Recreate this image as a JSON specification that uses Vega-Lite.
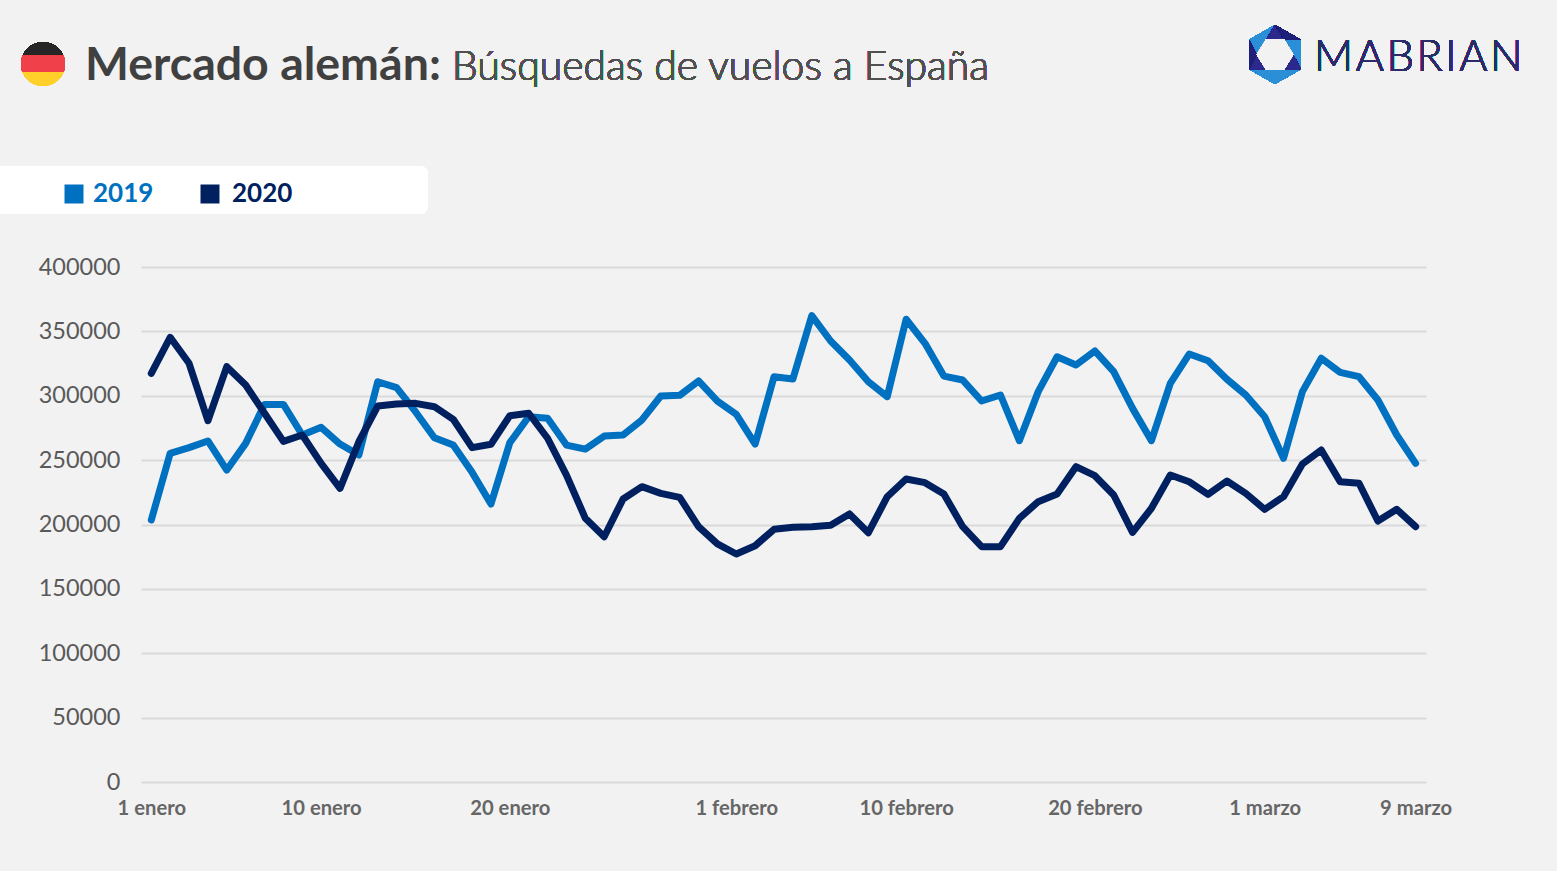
{"$schema":"https://vega.github.io/schema/vega-lite/v6.json","width":1285,"height":515,"autosize":{"type":"none"},"padding":{"left":141,"top":267,"right":131,"bottom":89},"background":"#f2f2f2","title":{"text":"Mercado alemán:","anchor":"start","frame":"group","dx":-56,"offset":-65,"font":"Lato","fontSize":46.5,"fontWeight":"bold","color":"#404040"},"config":{"view":{"stroke":null}},"data":{"values":[
{"day":1,"year":"2019","value":203500},{"day":2,"year":"2019","value":255300},{"day":3,"year":"2019","value":259700},{"day":4,"year":"2019","value":264900},{"day":5,"year":"2019","value":242300},{"day":6,"year":"2019","value":263000},{"day":7,"year":"2019","value":293300},{"day":8,"year":"2019","value":293300},{"day":9,"year":"2019","value":269500},{"day":10,"year":"2019","value":275500},{"day":11,"year":"2019","value":262500},{"day":12,"year":"2019","value":254000},{"day":13,"year":"2019","value":310900},{"day":14,"year":"2019","value":306300},{"day":15,"year":"2019","value":287600},{"day":16,"year":"2019","value":267400},{"day":17,"year":"2019","value":261700},{"day":18,"year":"2019","value":240500},{"day":19,"year":"2019","value":215900},{"day":20,"year":"2019","value":263600},{"day":21,"year":"2019","value":283700},{"day":22,"year":"2019","value":282500},{"day":23,"year":"2019","value":261700},{"day":24,"year":"2019","value":258600},{"day":25,"year":"2019","value":268700},{"day":26,"year":"2019","value":269500},{"day":27,"year":"2019","value":281200},{"day":28,"year":"2019","value":299800},{"day":29,"year":"2019","value":300300},{"day":30,"year":"2019","value":311500},{"day":31,"year":"2019","value":295900},{"day":32,"year":"2019","value":285600},{"day":33,"year":"2019","value":262500},{"day":34,"year":"2019","value":314800},{"day":35,"year":"2019","value":313000},{"day":36,"year":"2019","value":362200},{"day":37,"year":"2019","value":342500},{"day":38,"year":"2019","value":327800},{"day":39,"year":"2019","value":310900},{"day":40,"year":"2019","value":299300},{"day":41,"year":"2019","value":359400},{"day":42,"year":"2019","value":340700},{"day":43,"year":"2019","value":315300},{"day":44,"year":"2019","value":312200},{"day":45,"year":"2019","value":295900},{"day":46,"year":"2019","value":300600},{"day":47,"year":"2019","value":265100},{"day":48,"year":"2019","value":303200},{"day":49,"year":"2019","value":330300},{"day":50,"year":"2019","value":323900},{"day":51,"year":"2019","value":334800},{"day":52,"year":"2019","value":318700},{"day":53,"year":"2019","value":290200},{"day":54,"year":"2019","value":265100},{"day":55,"year":"2019","value":309600},{"day":56,"year":"2019","value":332400},{"day":57,"year":"2019","value":327200},{"day":58,"year":"2019","value":312800},{"day":59,"year":"2019","value":300600},{"day":60,"year":"2019","value":283700},{"day":61,"year":"2019","value":251400},{"day":62,"year":"2019","value":303200},{"day":63,"year":"2019","value":329100},{"day":64,"year":"2019","value":318200},{"day":65,"year":"2019","value":314800},{"day":66,"year":"2019","value":296700},{"day":67,"year":"2019","value":269500},{"day":68,"year":"2019","value":247500},
{"day":1,"year":"2020","value":317400},{"day":2,"year":"2020","value":345400},{"day":3,"year":"2020","value":325200},{"day":4,"year":"2020","value":280600},{"day":5,"year":"2020","value":322600},{"day":6,"year":"2020","value":308300},{"day":7,"year":"2020","value":286400},{"day":8,"year":"2020","value":264600},{"day":9,"year":"2020","value":269500},{"day":10,"year":"2020","value":247500},{"day":11,"year":"2020","value":228100},{"day":12,"year":"2020","value":264300},{"day":13,"year":"2020","value":292000},{"day":14,"year":"2020","value":293600},{"day":15,"year":"2020","value":294100},{"day":16,"year":"2020","value":291500},{"day":17,"year":"2020","value":281700},{"day":18,"year":"2020","value":259700},{"day":19,"year":"2020","value":262300},{"day":20,"year":"2020","value":284500},{"day":21,"year":"2020","value":286400},{"day":22,"year":"2020","value":267000},{"day":23,"year":"2020","value":238400},{"day":24,"year":"2020","value":204800},{"day":25,"year":"2020","value":190500},{"day":26,"year":"2020","value":219800},{"day":27,"year":"2020","value":229400},{"day":28,"year":"2020","value":224200},{"day":29,"year":"2020","value":221100},{"day":30,"year":"2020","value":198300},{"day":31,"year":"2020","value":184900},{"day":32,"year":"2020","value":177100},{"day":33,"year":"2020","value":183500},{"day":34,"year":"2020","value":196300},{"day":35,"year":"2020","value":197800},{"day":36,"year":"2020","value":198300},{"day":37,"year":"2020","value":199400},{"day":38,"year":"2020","value":208200},{"day":39,"year":"2020","value":193600},{"day":40,"year":"2020","value":221600},{"day":41,"year":"2020","value":235300},{"day":42,"year":"2020","value":232500},{"day":43,"year":"2020","value":223700},{"day":44,"year":"2020","value":198300},{"day":45,"year":"2020","value":182800},{"day":46,"year":"2020","value":182800},{"day":47,"year":"2020","value":204800},{"day":48,"year":"2020","value":217700},{"day":49,"year":"2020","value":223700},{"day":50,"year":"2020","value":244900},{"day":51,"year":"2020","value":237900},{"day":52,"year":"2020","value":222900},{"day":53,"year":"2020","value":193900},{"day":54,"year":"2020","value":212600},{"day":55,"year":"2020","value":238400},{"day":56,"year":"2020","value":233200},{"day":57,"year":"2020","value":223400},{"day":58,"year":"2020","value":233800},{"day":59,"year":"2020","value":224200},{"day":60,"year":"2020","value":211800},{"day":61,"year":"2020","value":221600},{"day":62,"year":"2020","value":247000},{"day":63,"year":"2020","value":257900},{"day":64,"year":"2020","value":233200},{"day":65,"year":"2020","value":232000},{"day":66,"year":"2020","value":202700},{"day":67,"year":"2020","value":211800},{"day":68,"year":"2020","value":198300}
]},"layer":[
{"mark":{"type":"rect","fill":"#ffffff","cornerRadiusTopRight":8,"cornerRadiusBottomRight":8,"clip":false},"encoding":{"x":{"datum":-7.018,"type":"quantitative"},"x2":{"datum":15.663},"y":{"datum":478447,"type":"quantitative"},"y2":{"datum":441165}}},
{"mark":{"type":"line","strokeWidth":7,"strokeCap":"round","strokeJoin":"round"},"encoding":{"x":{"field":"day","type":"quantitative","title":null,"scale":{"domain":[0.454,68.55],"nice":false,"zero":false},"axis":{"values":[1,10,20,32,41,51,60,68],"labelExpr":"datum.value==1?'1 enero':datum.value==10?'10 enero':datum.value==20?'20 enero':datum.value==32?'1 febrero':datum.value==41?'10 febrero':datum.value==51?'20 febrero':datum.value==60?'1 marzo':'9 marzo'","grid":false,"domain":false,"ticks":false,"labelPadding":16,"labelFont":"Lato","labelFontSize":20.2,"labelFontWeight":"bold","labelColor":"#666666","labelAngle":0,"labelOverlap":false,"labelFlush":false}},"y":{"field":"value","type":"quantitative","title":null,"scale":{"domain":[0,400000],"nice":false},"axis":{"values":[0,50000,100000,150000,200000,250000,300000,350000,400000],"format":"d","grid":true,"gridColor":"#d9d9d9","gridWidth":2,"domain":false,"ticks":false,"labelPadding":21,"labelFont":"Lato","labelFontSize":23.5,"labelColor":"#595959"}},"color":{"field":"year","type":"nominal","scale":{"domain":["2019","2020"],"range":["#0070c0","#002060"]},"legend":{"title":null,"orient":"none","direction":"horizontal","legendX":-80,"legendY":-86,"symbolType":"square","symbolSize":361,"labelFont":"Lato","labelFontSize":26,"labelFontWeight":"bold","labelOffset":6,"columnPadding":43,"padding":0,"encode":{"symbols":{"update":{"fill":{"signal":"datum.value=='2019'?'#0070c0':'#002060'"},"strokeWidth":{"value":0}}},"labels":{"update":{"fill":{"signal":"datum.value=='2019'?'#0070c0':'#002060'"},"dx":{"signal":"datum.value=='2019'?0:3"}}}}}}}},
{"mark":{"type":"text","text":"Búsquedas de vuelos a España","font":"Lato","fontSize":40.9,"fontWeight":300,"color":"#505050","align":"left","baseline":"alphabetic"},"encoding":{"x":{"datum":16.935,"type":"quantitative"},"y":{"datum":545243,"type":"quantitative"}}},
{"mark":{"type":"text","text":"M\u200aA\u200aB\u200aR\u200aI\u200aA\u200aN","font":"Lato","fontSize":43,"fontWeight":300,"color":"#2b2a6b","align":"left","baseline":"alphabetic"},"encoding":{"x":{"datum":62.62,"type":"quantitative"},"y":{"datum":552000,"type":"quantitative"}}},
{"mark":{"type":"point","filled":true,"opacity":1,"size":1936,"color":"#262626","shape":"M-0.925,-0.38 A1,1 0 0 1 0.925,-0.38 Z"},"encoding":{"x":{"datum":-4.739,"type":"quantitative"},"y":{"datum":557670,"type":"quantitative"}}},
{"mark":{"type":"point","filled":true,"opacity":1,"size":1936,"color":"#f0404a","shape":"M-0.925,-0.38 L0.925,-0.38 A1,1 0 0 1 0.925,0.38 L-0.925,0.38 A1,1 0 0 1 -0.925,-0.38 Z"},"encoding":{"x":{"datum":-4.739,"type":"quantitative"},"y":{"datum":557670,"type":"quantitative"}}},
{"mark":{"type":"point","filled":true,"opacity":1,"size":1936,"color":"#ffd02a","shape":"M0.925,0.38 A1,1 0 0 1 -0.925,0.38 Z"},"encoding":{"x":{"datum":-4.739,"type":"quantitative"},"y":{"datum":557670,"type":"quantitative"}}},
{"mark":{"type":"point","filled":true,"opacity":1,"size":3481,"color":"#2a8fd6","shape":"M0,-1 L0.875,-0.5 L0.875,0.5 L0,1 L-0.875,0.5 L-0.875,-0.5 Z"},"encoding":{"x":{"datum":60.549,"type":"quantitative"},"y":{"datum":565049,"type":"quantitative"}}},
{"mark":{"type":"point","filled":true,"opacity":1,"size":3481,"color":"#2b2a8c","shape":"M0,-1 L0.31,-0.5 L-0.31,-0.5 Z M0.875,0.5 L0.62,0 L0.31,0.5 Z M-0.875,0.5 L-0.62,0 L-0.31,0.5 Z"},"encoding":{"x":{"datum":60.549,"type":"quantitative"},"y":{"datum":565049,"type":"quantitative"}}},
{"mark":{"type":"point","filled":true,"opacity":1,"size":3481,"color":"#1d1f78","shape":"M-0.875,-0.5 L-0.62,0 L-0.875,0.5 Z M0,-1 L0.875,-0.5 L0.31,-0.5 Z"},"encoding":{"x":{"datum":60.549,"type":"quantitative"},"y":{"datum":565049,"type":"quantitative"}}},
{"mark":{"type":"point","filled":true,"opacity":1,"size":3481,"color":"#f2f2f2","shape":"M0.62,0 L0.31,0.5 L-0.31,0.5 L-0.62,0 L-0.31,-0.5 L0.31,-0.5 Z"},"encoding":{"x":{"datum":60.549,"type":"quantitative"},"y":{"datum":565049,"type":"quantitative"}}}
]}
